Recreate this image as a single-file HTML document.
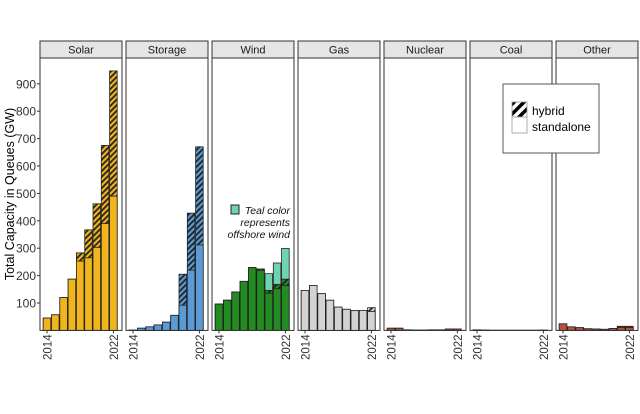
<!DOCTYPE html>
<html><head><meta charset="utf-8"><style>
body{margin:0;background:#fff;font-family:"Liberation Sans",sans-serif}
svg text{font-family:"Liberation Sans",sans-serif}
</style></head><body>
<svg id="chart" width="640" height="409" viewBox="0 0 640 409" xmlns="http://www.w3.org/2000/svg">
<defs id="defs"></defs>
<g id="root"></g>
</svg>
<script>
const years = [2014,2015,2016,2017,2018,2019,2020,2021,2022];
const panels = ["Solar","Storage","Wind","Gas","Nuclear","Coal","Other"];
const solarTotal = [45,57,120,187,283,367,462,675,947];
const solarStandalone = [45,57,120,187,253,265,303,390,490];
const storageTotal = [1,8,13,20,30,55,205,428,670];
const storageStandalone = [1,8,13,20,30,55,92,220,312];
const windOnshoreTotal = [96,110,140,179,229,224,146,168,187];
const windStandalone = [96,110,140,179,229,219,136,152,164];
const windOffshoreTotal = [96,110,140,179,229,224,207,246,299];
const gasTotal = [146,164,134,110,85,77,72,73,83];
const gasStandalone = [146,164,134,110,85,77,72,73,69];
const nuclearTotal = [8,8,2,1,1,2,2,5,5];
const coalTotal = [2,1,0.5,0.5,0.5,0.5,0.5,0.5,1];
const otherTotal = [24,13,10,6,5,4,7,15,15];
const otherStandalone = [24,13,10,6,5,4,7,11,11];
const yTicks = [100,200,300,400,500,600,700,800,900];

const colors = {Solar:"#f0b41c",Storage:"#5b9bd5",Wind:"#228b22",Gas:"#d3d3d3",Nuclear:"#b5543a",Coal:"#b5543a",Other:"#b5543a"};
const series = {
 Solar:{total:solarTotal,stand:solarStandalone},
 Storage:{total:storageTotal,stand:storageStandalone},
 Wind:{total:windOnshoreTotal,stand:windStandalone,off:windOffshoreTotal},
 Gas:{total:gasTotal,stand:gasStandalone},
 Nuclear:{total:nuclearTotal,stand:nuclearTotal},
 Coal:{total:coalTotal,stand:coalTotal},
 Other:{total:otherTotal,stand:otherStandalone}
};
const NS="http://www.w3.org/2000/svg";
const root=document.getElementById('root');
const defs=document.getElementById('defs');
function mk(tag,attrs,parent){const e=document.createElementNS(NS,tag);for(const k in attrs)e.setAttribute(k,attrs[k]);(parent||root).appendChild(e);return e;}

const plotTop=58, base=330.4, pxPer=0.274;
const y=v=>base-v*pxPer;
const panelX0=40, panelW=82, gap=4;
const px=i=>panelX0+i*(panelW+gap);
const x=(p,i)=>px(p)+3.2+i*8.3;
const bw=7.6;

panels.forEach((p,i)=>{
  const pat=mk('pattern',{id:'hatch'+i,patternUnits:'userSpaceOnUse',width:4,height:4,patternTransform:'rotate(45)'},defs);
  mk('rect',{x:0,y:0,width:4,height:4,fill:colors[p]},pat);
  mk('rect',{x:0,y:0,width:1.8,height:4,fill:'#222'},pat);
});
const lp=mk('pattern',{id:'hatchLeg',patternUnits:'userSpaceOnUse',width:7,height:7,patternTransform:'rotate(45)'},defs);
mk('rect',{x:0,y:0,width:7,height:7,fill:'#fff'},lp);
mk('rect',{x:0,y:0,width:3.5,height:7,fill:'#000'},lp);

const yt=mk('text',{x:14,y:194,'font-size':12.5,'text-anchor':'middle',transform:'rotate(-90 14 194)',fill:'#000'});
yt.textContent='Total Capacity in Queues (GW)';


yTicks.forEach(v=>{
  const t=mk('text',{x:36,y:y(v)+4.5,'font-size':12,'text-anchor':'end',fill:'#333'});
  t.textContent=v;
  
  
  mk('line',{x1:37,x2:40,y1:y(v),y2:y(v),stroke:'#333','stroke-width':1});
});

panels.forEach((p,pi)=>{
  const g=mk('g',{});
  
  
  const X=px(pi);
  mk('rect',{x:X,y:41,width:panelW,height:17,fill:'#e5e5e5',stroke:'#333','stroke-width':1},g);
  const st=mk('text',{x:X+panelW/2,y:53.5,'font-size':11,'text-anchor':'middle',fill:'#1a1a1a'},g);
  st.textContent=p;
  
  
  const s=series[p];
  years.forEach((yr,i)=>{
    const bx=x(pi,i);
    if(s.off){
      const r=mk('rect',{x:bx,y:y(s.off[i]),width:bw,height:base-y(s.off[i]),fill:'#6fd3b0',stroke:'#222','stroke-width':0.8},g);
      
      
    }
    const h=mk('rect',{x:bx,y:y(s.total[i]),width:bw,height:base-y(s.total[i]),fill:'url(#hatch'+pi+')',stroke:'#222','stroke-width':0.8},g);
    
    
    const r2=mk('rect',{x:bx,y:y(s.stand[i]),width:bw,height:base-y(s.stand[i]),fill:colors[p],stroke:'#222','stroke-width':0.8},g);
    
    
  });
  mk('rect',{x:X,y:plotTop,width:panelW,height:base-plotTop,fill:'none',stroke:'#333','stroke-width':1},g);
  [0,8].forEach(i=>{
    const cx=x(pi,i)+bw/2;
    mk('line',{x1:cx,x2:cx,y1:base,y2:base+3,stroke:'#333'},g);
    const t=mk('text',{x:cx+4.5,y:base+4,'font-size':11.5,'text-anchor':'end',transform:`rotate(-90 ${cx+4.5} ${base+4})`,fill:'#333'},g);
    t.textContent=years[i];
    
    
  });
});

const an=mk('g',{});


mk('rect',{x:231,y:205,width:8,height:9,fill:'#6fd3b0',stroke:'#222','stroke-width':1},an);
[['Teal color',214],['represents',226],['offshore wind',238]].forEach(([s,yy])=>{
  const t=mk('text',{x:290,y:yy,'font-size':10.5,'font-style':'italic','text-anchor':'end',fill:'#111'},an);
  t.textContent=s;
});

const lg=mk('g',{});


mk('rect',{x:503,y:84,width:96,height:69,fill:'#fff',stroke:'#555','stroke-width':1},lg);
mk('rect',{x:512,y:102,width:15,height:15,fill:'url(#hatchLeg)',stroke:'#999','stroke-width':0.8},lg);
mk('rect',{x:512,y:117,width:15,height:16,fill:'#fff',stroke:'#999','stroke-width':0.8},lg);
const l1=mk('text',{x:532,y:115,'font-size':12,fill:'#000'},lg);l1.textContent='hybrid';


const l2=mk('text',{x:532,y:131,'font-size':12,fill:'#000'},lg);l2.textContent='standalone';


</script>
</body></html>
